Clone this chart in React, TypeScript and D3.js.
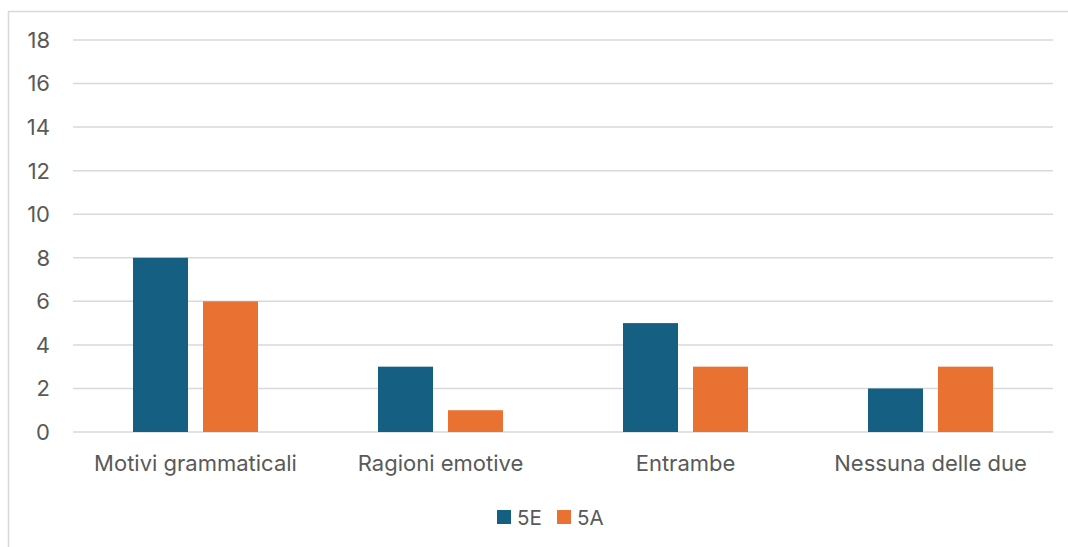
import React from "react";
import * as d3 from "d3";

const categories = ["Motivi grammaticali", "Ragioni emotive", "Entrambe", "Nessuna delle due"];
const seriesNames = ["5E", "5A"];
const values5E = [8, 3, 5, 2];
const values5A = [6, 1, 3, 3];
const yTicks = [0, 2, 4, 6, 8, 10, 12, 14, 16, 18];

const colors = ["#156082", "#E97132"];
const textColor = "#595959";
const font = "Inter, 'Open Sans', sans-serif";

export default function App() {
  const width = 1068;
  const height = 547;
  const left = 73;
  const right = 1053;
  const top = 40;
  const bottom = 432;

  const x = d3.scaleBand<string>().domain(categories).range([left, right]);
  const y = d3.scaleLinear().domain([0, 18]).range([bottom, top]);
  const barW = 55;
  const gap = 15;
  const series = [values5E, values5A];

  return (
    <svg
      width={width}
      height={height}
      style={{ position: "absolute", left: 0, top: 0 }}
    >
      <rect x={0} y={0} width={width} height={height} fill="#fff" />
      <rect x={8.5} y={11.5} width={1100} height={600} fill="none" stroke="#d9d9d9" strokeWidth={1.5} />
      {yTicks.map((t) => (
        <g key={t}>
          <line x1={left} x2={right} y1={y(t)} y2={y(t)} stroke="#d9d9d9" strokeWidth={1.5} />
          <text
            x={50}
            y={y(t)}
            dy="0.36em"
            textAnchor="end"
            fontFamily={font}
            fontSize={22}
            fill={textColor}
          >
            {t}
          </text>
        </g>
      ))}
      {categories.map((c, i) => {
        const cx = (x(c) as number) + x.bandwidth() / 2;
        return (
          <g key={c}>
            {series.map((vals, s) => {
              const bx = s === 0 ? cx - gap / 2 - barW : cx + gap / 2;
              return (
                <rect
                  key={s}
                  x={bx}
                  y={y(vals[i])}
                  width={barW}
                  height={y(0) - y(vals[i])}
                  fill={colors[s]}
                />
              );
            })}
            <text
              x={cx}
              y={471}
              textAnchor="middle"
              fontFamily={font}
              fontSize={22}
              fill={textColor}
            >
              {c}
            </text>
          </g>
        );
      })}
      {seriesNames.map((n, s) => {
        const lx = 497 + s * 60;
        return (
          <g key={n}>
            <rect x={lx} y={510} width={14} height={14} fill={colors[s]} />
            <text x={lx + 20} y={525} fontFamily={font} fontSize={20.5} fill={textColor}>
              {n}
            </text>
          </g>
        );
      })}
    </svg>
  );
}
